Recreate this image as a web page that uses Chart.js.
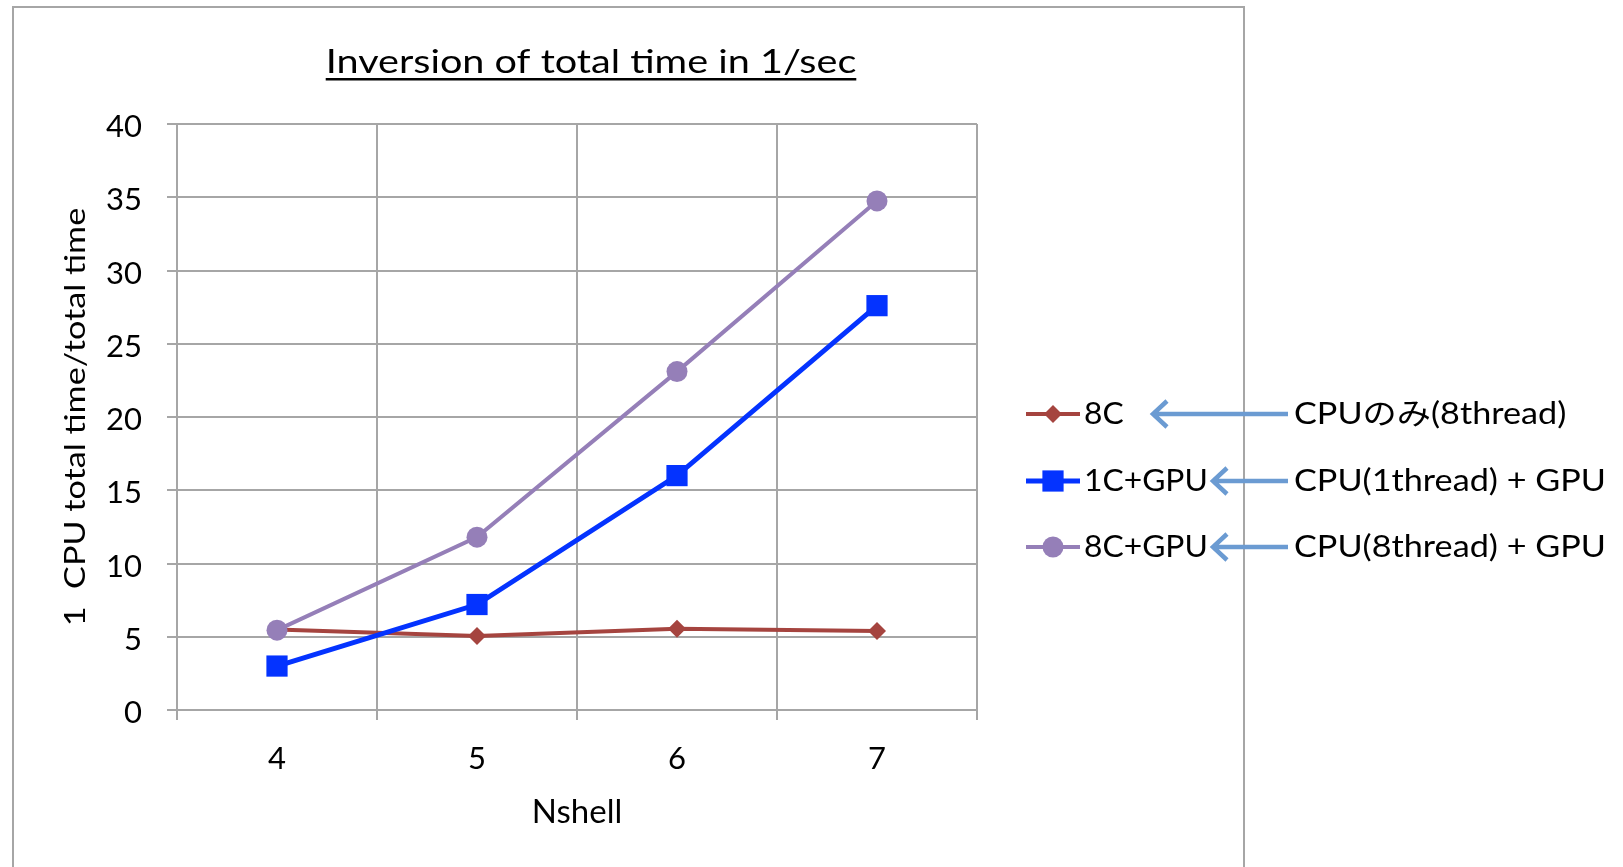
<!DOCTYPE html>
<html>
<head>
<meta charset="utf-8">
<script src="https://cdn.jsdelivr.net/npm/chart.js@4/dist/chart.umd.min.js"></script>
<style>
  body { margin: 0; background: #fff; }
  canvas { display: block; }
</style>
</head>
<body>
<canvas id="myChart" width="1623" height="867"></canvas>
<script>
// values
const labels = ['4', '5', '6', '7'];
const seriesNames = ['8C', '1C+GPU', '8C+GPU'];
const cpu8 = [5.5, 5.05, 5.55, 5.4];
const gpu1 = [3.0, 7.2, 16.0, 27.6];
const gpu8 = [5.45, 11.8, 23.1, 34.75];
const notes = ['CPUのみ(8thread)', 'CPU(1thread) + GPU', 'CPU(8thread) + GPU'];
const yTicks = [0, 5, 10, 15, 20, 25, 30, 35, 40];

const FONT = "Lato, 'Noto Sans CJK JP', sans-serif";
const GRID = '#a6a6a6';
Chart.defaults.font.family = FONT;
Chart.defaults.color = '#000';

const data = {
  labels: labels,
  datasets: [
    {
      label: seriesNames[0],
      data: cpu8,
      borderColor: '#a5443f',
      backgroundColor: '#a5443f',
      borderWidth: 4,
      pointStyle: 'rectRot',
      pointRadius: 9,
      pointBorderWidth: 0,
      order: 3,
    },
    {
      label: seriesNames[1],
      data: gpu1,
      borderColor: '#0433ff',
      backgroundColor: '#0433ff',
      borderWidth: 5,
      pointStyle: 'rect',
      pointRadius: 15,
      pointBorderWidth: 0,
      order: 2,
    },
    {
      label: seriesNames[2],
      data: gpu8,
      borderColor: '#957fb8',
      backgroundColor: '#957fb8',
      borderWidth: 4,
      pointStyle: 'circle',
      pointRadius: 10.5,
      pointBorderWidth: 0,
      order: 1,
    },
  ]
};

// text drawn a bit wider than the font, like the original
function stretchText(ctx, text, x, y, size, sx, align) {
  ctx.save();
  ctx.font = size + 'px ' + FONT;
  ctx.textAlign = align;
  ctx.translate(x, y);
  ctx.scale(sx, 1);
  ctx.fillText(text, 0, 0);
  const w = ctx.measureText(text).width * sx;
  ctx.restore();
  return w;
}

// title, y title, frame, legend and the arrow notes
const extras = {
  id: 'extras',
  afterDraw(chart) {
    const ctx = chart.ctx;
    ctx.save();

    // outer frame
    ctx.strokeStyle = GRID;
    ctx.lineWidth = 2;
    ctx.strokeRect(13, 7, 1231, 900);

    // title with underline
    ctx.fillStyle = '#000';
    ctx.textBaseline = 'alphabetic';
    const tw = stretchText(ctx, 'Inversion of total time in 1/sec', 591, 73, 33, 1.2, 'center');
    ctx.fillRect(591 - tw / 2, 78, tw, 2.5);

    // y axis title
    ctx.save();
    ctx.translate(76, 417);
    ctx.rotate(-Math.PI / 2);
    ctx.textBaseline = 'middle';
    stretchText(ctx, '1  CPU total time/total time', 0, 0, 28, 1.22, 'center');
    ctx.restore();

    // legend
    const rows = [414, 481, 547];
    const tips = [1152, 1212, 1212];
    chart.data.datasets.forEach((ds, i) => {
      const y = rows[i];
      ctx.strokeStyle = ds.borderColor;
      ctx.lineWidth = ds.borderWidth;
      ctx.beginPath();
      ctx.moveTo(1026, y);
      ctx.lineTo(1080, y);
      ctx.stroke();
      ctx.fillStyle = ds.backgroundColor;
      Chart.helpers.drawPoint(ctx, {
        pointStyle: ds.pointStyle,
        radius: ds.pointRadius,
        rotation: 0,
        borderWidth: 0
      }, 1053, y);

      ctx.fillStyle = '#000';
      ctx.textBaseline = 'middle';
      stretchText(ctx, ds.label, 1084, y, 30, 1.06, 'left');

      // arrow
      ctx.strokeStyle = '#6b9bd2';
      ctx.lineWidth = 4.5;
      ctx.beginPath();
      ctx.moveTo(1288, y);
      ctx.lineTo(tips[i], y);
      ctx.moveTo(tips[i] + 15, y - 13);
      ctx.lineTo(tips[i] + 1, y);
      ctx.lineTo(tips[i] + 15, y + 13);
      ctx.stroke();

      stretchText(ctx, notes[i], 1294, y, 30, 1.14, 'left');
    });
    ctx.restore();
  }
};

var ctx = document.getElementById('myChart').getContext('2d');
var chart = new Chart(ctx, {
  type: 'line',
  data: data,
  plugins: [extras],
  options: {
    responsive: false,
    animation: false,
    layout: {
      padding: { left: 0, right: 646, top: 124, bottom: 0 }
    },
    plugins: {
      legend: { display: false },
      title: { display: false },
      tooltip: { enabled: false }
    },
    scales: {
      x: {
        offset: true,
        afterFit: (scale) => { scale.height = 157; },
        grid: { offset: true, color: GRID, lineWidth: 2, tickLength: 10 },
        border: { color: GRID, width: 2 },
        ticks: { font: { size: 31 }, padding: 20, color: '#000' },
        title: {
          display: true,
          text: 'Nshell',
          font: { size: 33 },
          padding: { top: 0, bottom: 35 }
        }
      },
      y: {
        min: 0,
        max: 40,
        afterFit: (scale) => { scale.width = 177; },
        afterBuildTicks: (scale) => { scale.ticks = yTicks.map(v => ({ value: v })); },
        grid: { color: GRID, lineWidth: 2, tickLength: 10 },
        border: { color: GRID, width: 2 },
        ticks: { font: { size: 31 }, padding: 25, labelOffset: 3, color: '#000' }
      }
    }
  }
});
</script>
</body>
</html>
